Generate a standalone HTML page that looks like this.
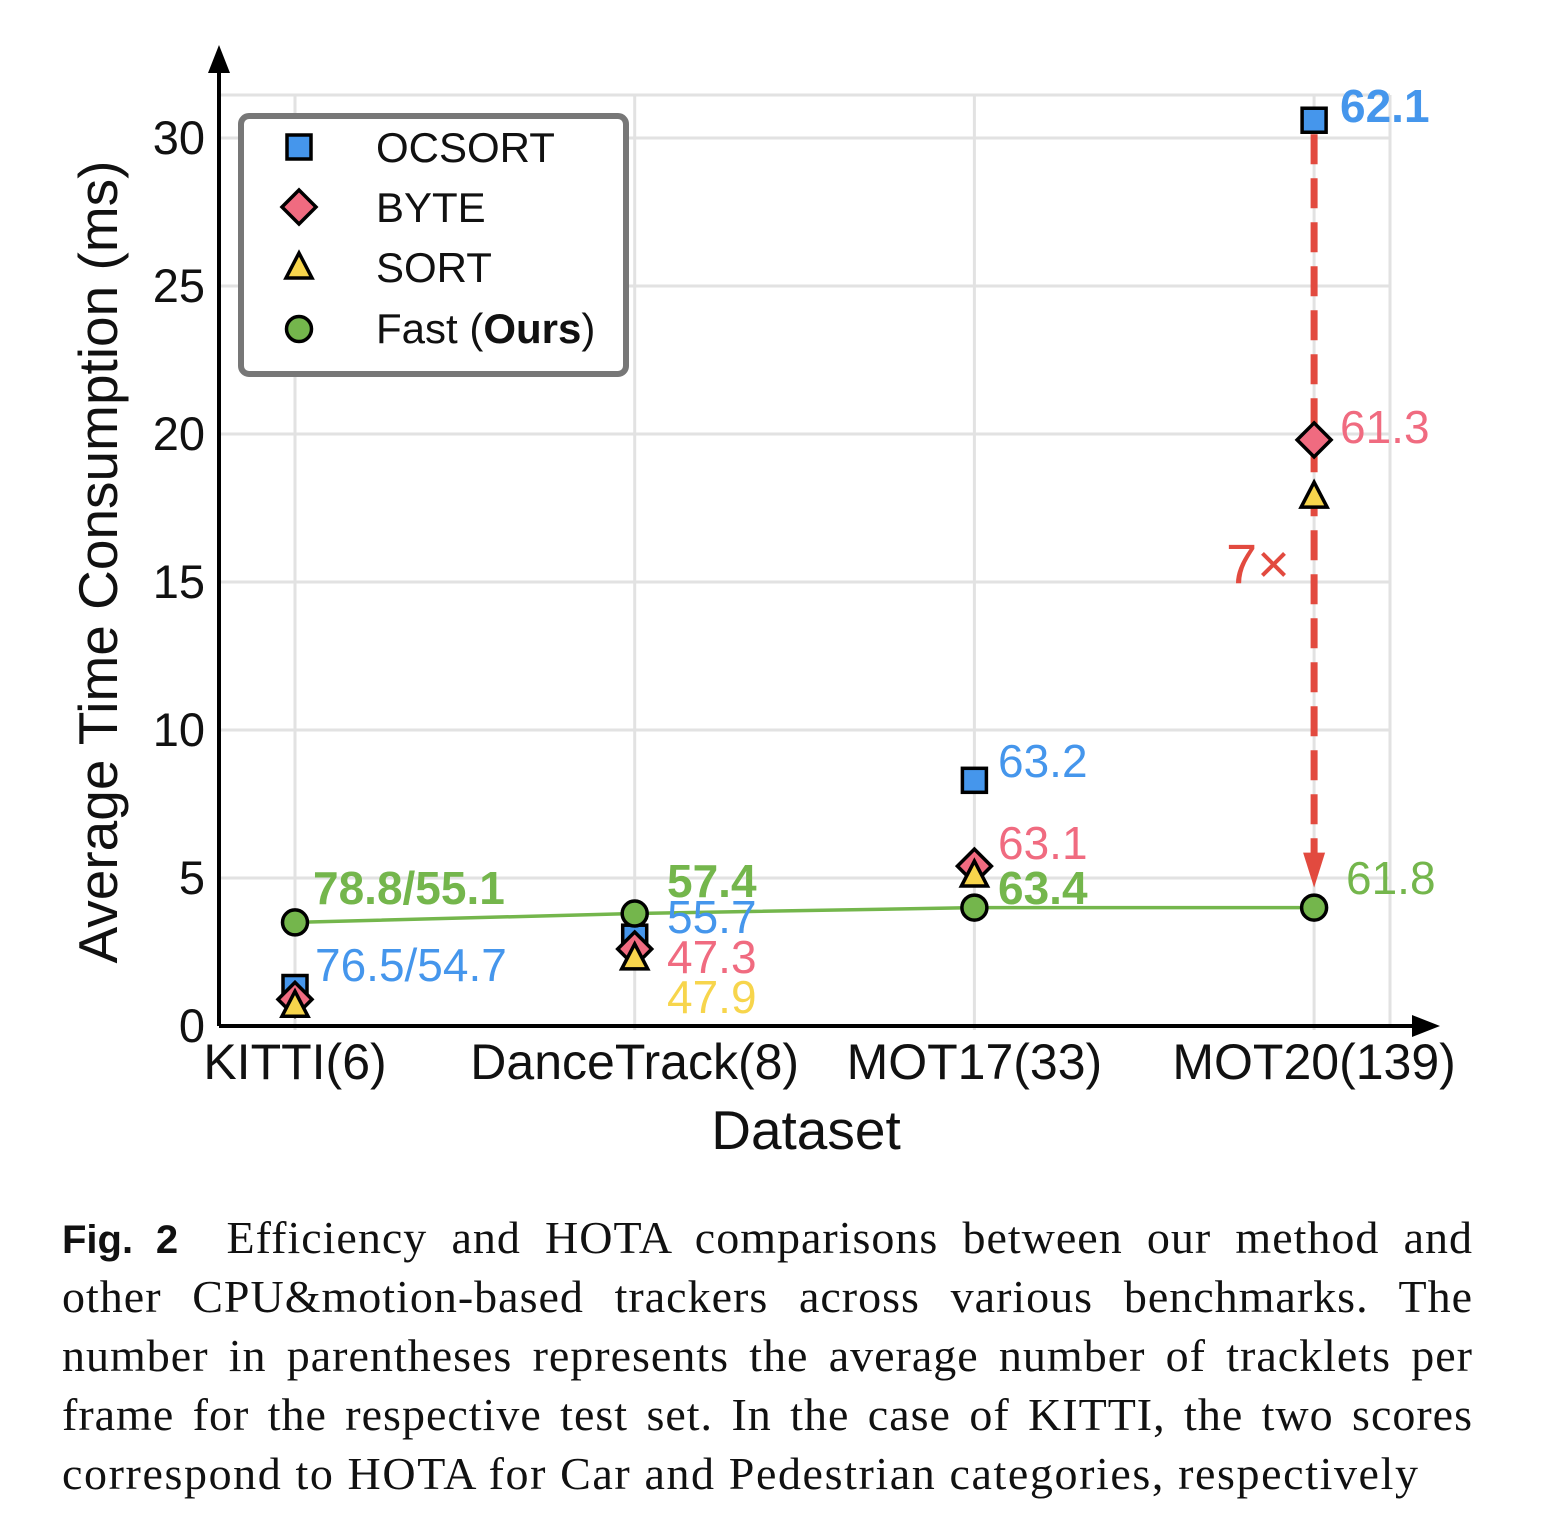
<!DOCTYPE html>
<html><head><meta charset="utf-8"><style>
body{margin:0;background:#fff;width:1563px;height:1537px;overflow:hidden}
#cap{position:absolute;left:62px;top:1208px;width:1411px;font-family:"Liberation Serif",serif;font-size:46px;letter-spacing:1px;line-height:59px;color:#111}
#cap div{text-align:justify;text-align-last:justify;white-space:nowrap;height:59px}
#cap div.last{text-align-last:left;letter-spacing:1.6px}
</style></head><body>
<svg id="chart" width="1563" height="1200" style="position:absolute;left:0;top:0" font-family="Liberation Sans, sans-serif"></svg>
<div id="cap">
<div><b style="font-family:'Liberation Sans',sans-serif;font-size:40px;letter-spacing:0">Fig. 2</b>&nbsp; Efficiency and HOTA comparisons between our method and</div>
<div>other CPU&amp;motion-based trackers across various benchmarks. The</div>
<div>number in parentheses represents the average number of tracklets per</div>
<div>frame for the respective test set. In the case of KITTI, the two scores</div>
<div class="last">correspond to HOTA for Car and Pedestrian categories, respectively</div>
</div>
<script>
const categories=["KITTI(6)","DanceTrack(8)","MOT17(33)","MOT20(139)"];
const ocsort=[1.3,3.0,8.3,30.6];
const byte=[0.9,2.6,5.4,19.8];
const sort=[0.7,2.3,5.1,17.9];
const fast=[3.5,3.8,4.0,4.0];
const yTicks=[0,5,10,15,20,25,30];
const ocLabels=["76.5/54.7","55.7","63.2","62.1"];
const byteLabels=["","47.3","63.1","61.3"];
const sortLabels=["","47.9","",""];
const fastLabels=["78.8/55.1","57.4","63.4","61.8"];
const NS="http://www.w3.org/2000/svg";
const svg=document.getElementById('chart');
const X=i=>295+i*339.7;
const Y=v=>1026-v*29.6;
function el(t,a,txt){const e=document.createElementNS(NS,t);for(const k in a)e.setAttribute(k,a[k]);if(txt!==undefined)e.textContent=txt;svg.appendChild(e);return e;}
const BLUE="#4596ec",PINK="#f06b80",YEL="#f7d54c",GRN="#74b64c",RED="#e24a3f";
yTicks.forEach(v=>{const g=el('line',{x1:220,x2:1390,y1:Y(v),y2:Y(v),stroke:'#e2e2e2','stroke-width':3});
const t=el('text',{x:205,y:Y(v)+16,'text-anchor':'end','font-size':47,fill:'#111'},v);});
el('line',{x1:220,x2:1390,y1:95,y2:95,stroke:'#e2e2e2','stroke-width':3});
categories.forEach((c,i)=>{const g=el('line',{x1:X(i),x2:X(i),y1:95,y2:1030,stroke:'#e2e2e2','stroke-width':3});
const t=el('text',{x:X(i),y:1079,'text-anchor':'middle','font-size':50,fill:'#111'},c);});
el('line',{x1:1390,x2:1390,y1:95,y2:1026,stroke:'#e2e2e2','stroke-width':3});
const ax=el('path',{d:'M219 1026 H1422 M219 1026 V70',stroke:'#000','stroke-width':4,fill:'none'});
el('path',{d:'M1440 1026 L1412 1015 L1412 1037Z',fill:'#000'});
el('path',{d:'M219 45 L208 73 L230 73Z',fill:'#000'});
const yt=el('text',{x:0,y:0,'font-size':55,'text-anchor':'middle',fill:'#111',transform:'translate(117,562) rotate(-90)'},'Average Time Consumption (ms)');
const xt=el('text',{x:806,y:1149,'font-size':55,'text-anchor':'middle',fill:'#111'},'Dataset');
const ar=el('line',{x1:X(3),x2:X(3),y1:Y(ocsort[3])+14,y2:Y(fast[3])-40,stroke:RED,'stroke-width':7,'stroke-dasharray':'30 14'});
el('path',{d:`M${X(3)} ${Y(fast[3])-20} L${X(3)-11} ${Y(fast[3])-55} L${X(3)+11} ${Y(fast[3])-55}Z`,fill:RED});
const sp=el('text',{x:1226,y:583,'font-size':56,fill:RED},'7×');
const fl=el('polyline',{points:fast.map((v,i)=>X(i)+','+Y(v)).join(' '),fill:'none',stroke:GRN,'stroke-width':3.5});
function sq(x,y,c){return el('rect',{x:x-12,y:y-12,width:24,height:24,fill:c,stroke:'#000','stroke-width':3.5});}
function dia(x,y,c){return el('path',{d:`M${x} ${y-17} L${x+17} ${y} L${x} ${y+17} L${x-17} ${y}Z`,fill:c,stroke:'#000','stroke-width':3.5});}
function tri(x,y,c){return el('path',{d:`M${x} ${y-14} L${x+13} ${y+11} L${x-13} ${y+11}Z`,fill:c,stroke:'#000','stroke-width':3.5});}
function circ(x,y,c){return el('circle',{cx:x,cy:y,r:12.5,fill:c,stroke:'#000','stroke-width':3.5});}
categories.forEach((c,i)=>{
 let m=sq(X(i),Y(ocsort[i]),BLUE);
 m=dia(X(i),Y(byte[i]),PINK);
 m=tri(X(i),Y(sort[i]),YEL);
 m=circ(X(i),Y(fast[i]),GRN);
});
const lab=[[ocLabels,BLUE,[[315,981,0],[667,933,0],[998,777,0],[1340,122,1]]],[byteLabels,PINK,[[0,0,0],[667,973,0],[998,859,0],[1340,443,0]]],[sortLabels,YEL,[[0,0,0],[667,1013,0],[0,0,0],[0,0,0]]],[fastLabels,GRN,[[313,904,1],[667,897,1],[998,904,1],[1346,894,0]]]];
lab.forEach(([arr,col,pos])=>arr.forEach((s,i)=>{if(!s)return;const p=pos[i];const t=el('text',{x:p[0],y:p[1],'font-size':46,fill:col,'font-weight':p[2]?'bold':'normal'},s);}));
const lg=el('rect',{x:241,y:116,width:385,height:258,rx:8,fill:'#fff',stroke:'#777','stroke-width':6});
const names=["OCSORT","BYTE","SORT"];const fns=[sq,dia,tri];const cols=[BLUE,PINK,YEL];
names.forEach((n,k)=>{const y=147+k*60;fns[k](299,y,cols[k]);const t=el('text',{x:376,y:y+15,'font-size':42,fill:'#111'},n);});
circ(299,329,GRN);
const t=el('text',{x:376,y:343,'font-size':42,fill:'#111'});
t.innerHTML='Fast (<tspan font-weight="bold">Ours</tspan>)';
</script>
</body></html>
